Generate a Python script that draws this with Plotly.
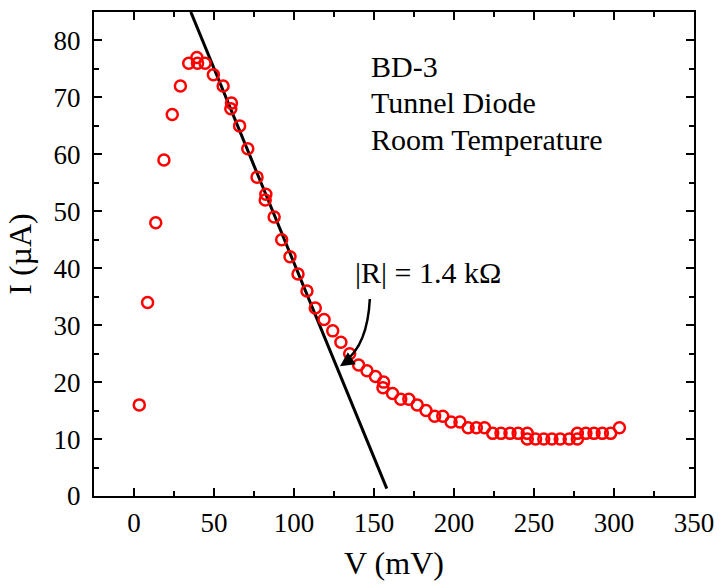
import plotly.graph_objects as go

# Measured data: V (mV), I (uA)
V = [3.3, 8.5, 13.6, 18.7, 23.9, 29.0, 34.2, 39.3, 39.7, 44.4, 49.6, 55.7, 60.9, 60.5,
     66.0, 71.1, 76.9, 82.4, 82.0, 87.6, 92.3, 97.5, 102.5, 108.1, 113.3, 118.8, 124.2,
     129.3, 134.8, 140.4, 145.6, 150.9, 156.0, 155.6, 161.6, 166.7, 171.8, 177.0, 182.5,
     187.9, 193.0, 198.2, 203.7, 208.8, 214.0, 219.1, 224.2, 229.4, 235.0, 240.1, 245.8,
     245.8, 251.0, 256.1, 261.2, 266.4, 272.0, 277.1, 277.1, 282.4, 287.5, 292.7, 297.9,
     303.4]
I = [16, 34, 48, 59, 67, 72, 76, 77, 76, 76, 74, 72, 69, 68,
     65, 61, 56, 53, 52, 49, 45, 42, 39, 36, 33, 31, 29,
     27, 25, 23, 22, 21, 20, 19, 18, 17, 17, 16, 15,
     14, 14, 13, 13, 12, 12, 12, 11, 11, 11, 11, 11,
     10, 10, 10, 10, 10, 10, 10, 11, 11, 11, 11, 11,
     12]

# Negative-resistance fit line endpoints
fit_V = [35.5, 158.0]
fit_I = [85.0, 1.3]

# Curved arrow (start, control, end) and arrow tip, data coords
arrow_V = [147.4, 145.9, 131.6]
arrow_I = [34.6, 26.5, 23.6]
tip_V, tip_I = 128.7, 22.8

x_ticks = [0, 50, 100, 150, 200, 250, 300, 350]
y_ticks = [0, 10, 20, 30, 40, 50, 60, 70, 80]

info_lines = ["BD-3", "Tunnel Diode", "Room Temperature"]
info_y = [0.887, 0.812, 0.736]

FONT = "Liberation Serif, Times New Roman, serif"

fig = go.Figure()
fig.add_trace(go.Scatter(
    x=fit_V, y=fit_I, mode="lines",
    line=dict(color="black", width=3), showlegend=False, hoverinfo="skip"))
fig.add_trace(go.Scatter(
    x=V, y=I, mode="markers",
    marker=dict(symbol="circle-open", size=11, color="#ff0000", line=dict(width=2.5, color="#ff0000")),
    showlegend=False))

path = "M {},{} Q {},{} {},{}".format(arrow_V[0], arrow_I[0], arrow_V[1], arrow_I[1], arrow_V[2], arrow_I[2])
fig.add_shape(type="path", path=path, xref="x", yref="y", line=dict(color="black", width=2.5))

fig.add_annotation(x=tip_V, y=tip_I, xref="x", yref="y", text="", showarrow=True,
                   ax=9, ay=-6, arrowhead=2, arrowsize=1.3, arrowwidth=2.2,
                   arrowcolor="black", standoff=0)

fig.add_annotation(x=183.5, y=39.2, xref="x", yref="y", text="|R| = 1.4 kΩ",
                   showarrow=False, font=dict(family=FONT, size=30, color="black"))

for txt, yy in zip(info_lines, info_y):
    fig.add_annotation(x=0.459, y=yy, xref="paper", yref="paper", xanchor="left", yanchor="middle",
                       align="left", showarrow=False, text=txt,
                       font=dict(family=FONT, size=30, color="black"))

axis_common = dict(
    showline=True, linecolor="black", linewidth=2, mirror="allticks",
    ticks="inside", ticklen=8, tickwidth=2, tickcolor="black",
    showgrid=False, zeroline=False,
    tickfont=dict(family=FONT, size=27, color="black"),
)

fig.update_xaxes(range=[-25, 350], tickvals=x_ticks, ticklabelstandoff=2,
                 minor=dict(dtick=25, ticks="inside", ticklen=5, tickwidth=2, tickcolor="black"),
                 title=dict(text="V (mV)", font=dict(family=FONT, size=32, color="black"), standoff=14),
                 **axis_common)
fig.update_yaxes(range=[0, 85], tickvals=y_ticks, ticklabelstandoff=6,
                 minor=dict(dtick=5, ticks="inside", ticklen=5, tickwidth=2, tickcolor="black"),
                 title=dict(text="I (µA)", font=dict(family=FONT, size=32, color="black"), standoff=12),
                 **axis_common)

fig.update_layout(width=724, height=585, margin=dict(l=94, r=22, t=10, b=88),
                  plot_bgcolor="white", paper_bgcolor="white")

fig.write_html("out.html")
